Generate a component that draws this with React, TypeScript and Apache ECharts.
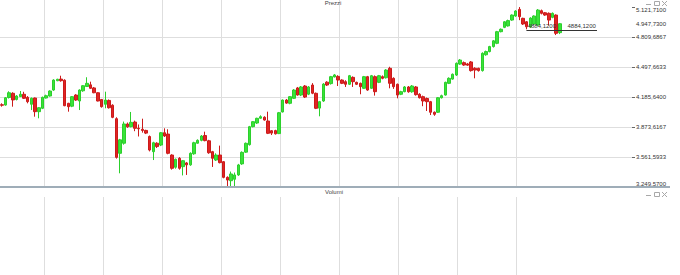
import React, { useEffect, useRef } from 'react';
import * as echarts from 'echarts';

// OHLC (index = session)
const opens = [
  4105, 4102, 4180, 4224, 4160, 4190, 4214, 4182, 4110, 4175,
  4033, 4068, 4175, 4196, 4258, 4355, 4372, 4360, 4120, 4090,
  4206, 4144, 4250, 4295, 4312, 4280, 4230, 4160, 4110, 4150,
  4100, 3960, 3600, 3705, 3905, 3877, 3925, 3860, 3850, 3838,
  3775, 3617, 3705, 3686, 3814, 3800, 3582, 3455, 3548, 3461,
  3500, 3480, 3595, 3705, 3735, 3785, 3730, 3617, 3530, 3582,
  3513, 3350, 3315, 3330, 3375, 3490, 3612, 3690, 3877, 3915,
  3965, 3975, 3936, 3835, 3836, 3805, 4030, 4154, 4120, 4172,
  4280, 4206, 4300, 4215, 4310, 4224, 4070, 4144, 4340, 4325,
  4394, 4400, 4362, 4345, 4318, 4390, 4338, 4328, 4276, 4397,
  4276, 4397, 4338, 4397, 4386, 4484, 4380, 4318, 4214, 4241,
  4290, 4240, 4290, 4214, 4189, 4170, 4137, 4027, 4027, 4178,
  4206, 4328, 4372, 4414, 4528, 4543, 4530, 4550, 4484, 4484,
  4460, 4625, 4658, 4710, 4744, 4865, 4910, 4925, 4986, 5028,
  5097, 5004, 4968, 4915, 4945, 4935, 5083, 5062, 5056, 5014,
  5038, 4855,
];
const closes = [
  4100, 4178, 4230, 4155, 4196, 4214, 4172, 4137, 4172, 4033,
  4074, 4182, 4199, 4248, 4362, 4370, 4355, 4095, 4085, 4189,
  4154, 4258, 4303, 4328, 4276, 4230, 4144, 4085, 4154, 4074,
  3974, 3558, 3740, 3905, 3875, 3922, 3860, 3855, 3838, 3810,
  3634, 3710, 3670, 3814, 3780, 3600, 3444, 3538, 3444, 3523,
  3480, 3600, 3710, 3735, 3780, 3732, 3606, 3548, 3582, 3503,
  3350, 3322, 3385, 3375, 3479, 3610, 3704, 3877, 3929, 3964,
  3981, 3946, 3808, 3810, 3803, 4022, 4154, 4122, 4189, 4258,
  4206, 4290, 4185, 4290, 4225, 4068, 4137, 4320, 4310, 4397,
  4415, 4362, 4328, 4318, 4407, 4345, 4318, 4293, 4397, 4258,
  4407, 4241, 4407, 4380, 4466, 4328, 4293, 4206, 4241, 4290,
  4240, 4300, 4210, 4178, 4144, 4137, 4027, 4006, 4178, 4199,
  4338, 4380, 4422, 4536, 4570, 4518, 4517, 4460, 4466, 4460,
  4640, 4658, 4710, 4770, 4865, 4890, 4968, 4980, 5038, 5080,
  5021, 4945, 4916, 5007, 5028, 5090, 5056, 5038, 4986, 5056,
  4848, 4947.73,
];
const lows = [
  4085, 4095, 4170, 4085, 4150, 4185, 4165, 4120, 4050, 3981,
  3964, 4060, 4170, 4190, 4250, 4350, 4345, 4090, 4033, 4080,
  4145, 4050, 4240, 4290, 4270, 4225, 4140, 4075, 4068, 4065,
  3965, 3545, 3392, 3690, 3865, 3870, 3830, 3775, 3815, 3800,
  3620, 3530, 3655, 3675, 3770, 3590, 3430, 3440, 3430, 3370,
  3375, 3470, 3585, 3700, 3725, 3725, 3595, 3458, 3520, 3495,
  3340, 3255, 3258, 3250, 3365, 3480, 3605, 3680, 3870, 3905,
  3960, 3940, 3800, 3790, 3795, 3800, 4025, 4115, 4110, 4165,
  4200, 4195, 4175, 4205, 4215, 4060, 3985, 4135, 4300, 4315,
  4390, 4300, 4320, 4290, 4310, 4290, 4310, 4214, 4270, 4250,
  4270, 4200, 4330, 4370, 4378, 4276, 4270, 4172, 4205, 4235,
  4230, 4230, 4200, 4170, 4090, 4040, 3998, 3990, 4020, 4170,
  4200, 4320, 4365, 4405, 4520, 4510, 4510, 4450, 4380, 4450,
  4450, 4615, 4650, 4700, 4735, 4858, 4902, 4918, 4978, 5020,
  4985, 4935, 4890, 4905, 4935, 4925, 5045, 5030, 4930, 5005,
  4830, 4840,
];
const highs = [
  4120, 4185, 4245, 4235, 4205, 4248, 4240, 4195, 4180, 4180,
  4080, 4190, 4210, 4255, 4370, 4375, 4407, 4370, 4125, 4195,
  4215, 4265, 4310, 4391, 4345, 4290, 4235, 4165, 4241, 4160,
  4110, 3975, 3750, 3930, 3920, 4030, 3940, 3900, 3960, 3845,
  3785, 3720, 3715, 3822, 3860, 3850, 3590, 3545, 3560, 3530,
  3510, 3610, 3720, 3745, 3790, 3825, 3740, 3625, 3600, 3680,
  3520, 3360, 3410, 3400, 3490, 3620, 3712, 3885, 3935, 3970,
  3995, 3985, 4033, 3840, 3845, 4030, 4160, 4165, 4195, 4268,
  4290, 4300, 4310, 4300, 4330, 4232, 4145, 4330, 4350, 4405,
  4425, 4412, 4370, 4360, 4415, 4400, 4345, 4335, 4405, 4405,
  4415, 4410, 4415, 4410, 4475, 4500, 4390, 4325, 4250, 4300,
  4300, 4310, 4300, 4225, 4200, 4180, 4145, 4035, 4185, 4210,
  4345, 4390, 4430, 4545, 4580, 4555, 4540, 4560, 4495, 4490,
  4650, 4668, 4718, 4778, 4873, 4898, 4975, 4990, 5045, 5088,
  5121, 5010, 4975, 5015, 5035, 5100, 5095, 5070, 5065, 5065,
  5045, 4955,
];

// axis / annotation values
const slotCount = 171; // sessions shown incl. empty space on the right
const categories = Array.from({ length: slotCount }, (_, i) => String(i));
const priceMin = 3249.57;
const priceMax = 5121.71;
const priceSteps = 6;
const supportLevel = 4884.12;
const supportFrom = 142;
const supportTo = 161;

const FONT = '"Liberation Sans", Arial, sans-serif';
const FS = 6;

function itNum(v: number): string {
  const s = Math.abs(v).toFixed(4);
  const [intPart, frac] = s.split('.');
  const withSep = intPart.replace(/\B(?=(\d{3})+(?!\d))/g, '.');
  return (v < 0 ? '-' : '') + withSep + ',' + frac;
}
function plainNum(v: number): string {
  return v.toFixed(4).replace('.', ',');
}

function windowControls(y: number) {
  const c = '#a8a8a8';
  return [
    { type: 'rect', shape: { x: 646, y: y + 4, width: 5, height: 1 }, style: { fill: c } },
    { type: 'rect', shape: { x: 654.5, y: y + 1.5, width: 5, height: 4 }, style: { fill: 'none', stroke: c, lineWidth: 1 } },
    { type: 'line', shape: { x1: 662, y1: y + 1, x2: 667, y2: y + 6 }, style: { stroke: c, lineWidth: 1 } },
    { type: 'line', shape: { x1: 667, y1: y + 1, x2: 662, y2: y + 6 }, style: { stroke: c, lineWidth: 1 } },
  ];
}

export default function App() {
  const ref = useRef<HTMLDivElement>(null);
  useEffect(() => {
    if (!ref.current) return;
    const chart = echarts.init(ref.current, undefined, { renderer: 'svg' });
    const data = opens.map((o, i) => [o, closes[i], lows[i], highs[i]]);
    const lastClose = closes[closes.length - 1];
    const gridLine = { color: '#dedede', width: 1 };
    const vAxis = (gridIndex: number) => ({
      type: 'value',
      gridIndex,
      min: 0,
      max: 472,
      interval: 59,
      axisLine: { show: false },
      axisTick: { show: false },
      axisLabel: { show: false },
      splitLine: { show: true, lineStyle: gridLine },
    });
    const labelText = { fontSize: FS, fontFamily: FONT, color: '#333' };
    const option: any = {
      animation: false,
      backgroundColor: '#ffffff',
      grid: [
        { left: 0, top: 7, width: 632, height: 180 },
        { left: 44, top: 0, width: 472, height: 187 },
        { left: 44, top: 197, width: 472, height: 78 },
      ],
      xAxis: [
        { type: 'category', gridIndex: 0, data: categories, boundaryGap: true, show: false },
        vAxis(1),
        vAxis(2),
      ],
      yAxis: [
        {
          type: 'value',
          gridIndex: 0,
          position: 'right',
          min: priceMin,
          max: priceMax,
          interval: (priceMax - priceMin) / priceSteps,
          axisLine: { show: false },
          axisTick: { show: true, length: 3, lineStyle: { color: '#666' } },
          axisLabel: {
            show: true,
            margin: 4,
            ...labelText,
            formatter: (v: number) => itNum(v),
            verticalAlignMaxLabel: 'top',
            verticalAlignMinLabel: 'bottom',
          },
          splitLine: { show: true, showMaxLine: false, lineStyle: gridLine },
        },
        { type: 'value', gridIndex: 1, show: false },
        { type: 'value', gridIndex: 2, show: false },
      ],
      series: [
        {
          type: 'candlestick',
          xAxisIndex: 0,
          yAxisIndex: 0,
          data,
          barWidth: 3,
          itemStyle: {
            color: '#39e339',
            color0: '#e02424',
            borderColor: '#2ccf2c',
            borderColor0: '#cc1a1a',
            borderWidth: 1,
          },
          markLine: {
            silent: true,
            symbol: ['none', 'none'],
            animation: false,
            data: [
              [
                {
                  coord: [supportFrom, supportLevel],
                  lineStyle: { color: '#333', width: 1, type: 'solid' },
                  label: { show: true, position: 'insideStartTop', distance: 1, formatter: plainNum(supportLevel), ...labelText },
                },
                { coord: [supportTo, supportLevel] },
              ],
              [
                {
                  coord: [supportFrom, supportLevel],
                  lineStyle: { color: '#333', width: 1, type: 'solid' },
                  label: { show: true, position: 'insideEndTop', distance: 1, formatter: plainNum(supportLevel), ...labelText },
                },
                { coord: [supportTo, supportLevel] },
              ],
              {
                yAxis: lastClose,
                lineStyle: { color: 'rgba(0,0,0,0)', width: 0 },
                label: { show: true, position: 'end', distance: 4, formatter: itNum(lastClose), ...labelText },
              },
            ],
          },
        },
      ],
      graphic: [
        { type: 'rect', z: 100, shape: { x: 0, y: 186, width: 670, height: 2 }, style: { fill: '#9fadb8' } },
        { type: 'text', z: 100, x: 333, y: 0, style: { text: 'Prezzi', fontSize: FS, fontFamily: FONT, fill: '#444', align: 'center', verticalAlign: 'top', textAlign: 'center', textVerticalAlign: 'top' } },
        { type: 'text', z: 100, x: 334, y: 189, style: { text: 'Volumi', fontSize: FS, fontFamily: FONT, fill: '#444', align: 'center', verticalAlign: 'top', textAlign: 'center', textVerticalAlign: 'top' } },
        ...windowControls(0),
        ...windowControls(191),
      ],
    };
    chart.setOption(option);
    return () => chart.dispose();
  }, []);
  return (
    <div
      ref={ref}
      style={{ position: 'fixed', left: 0, top: 0, width: 680, height: 275, background: '#fff' }}
    />
  );
}
